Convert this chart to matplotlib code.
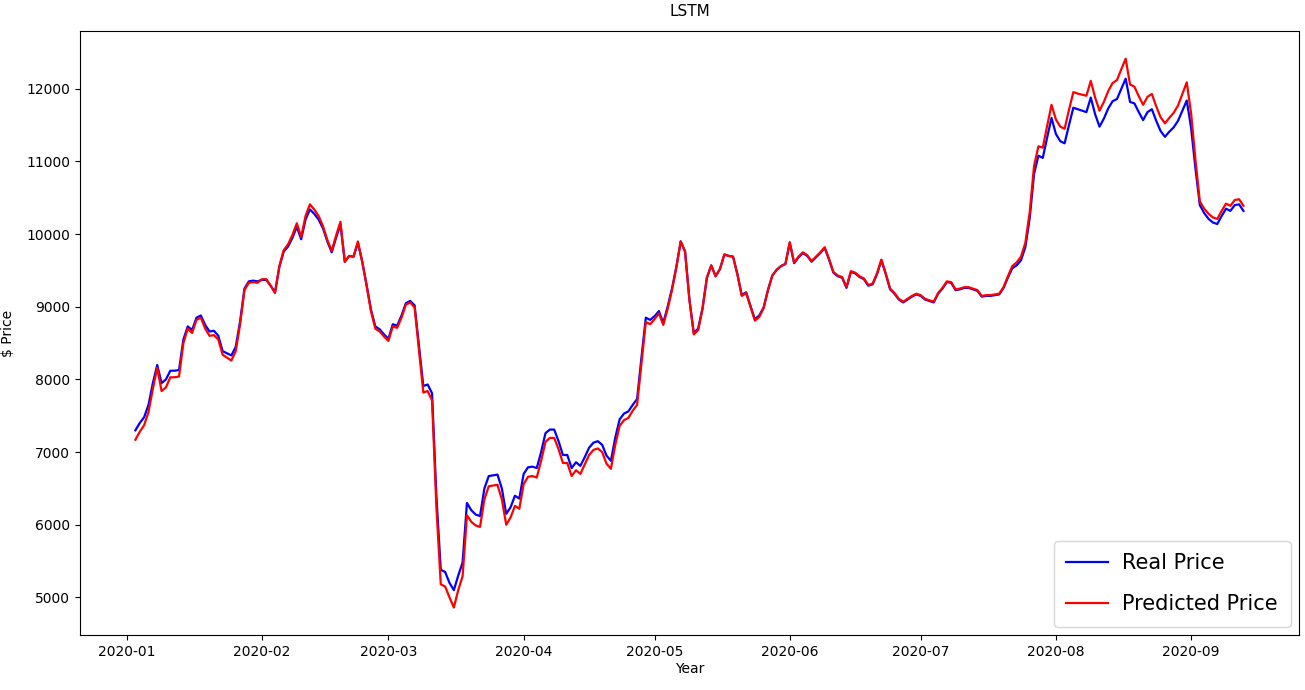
import matplotlib
matplotlib.use("Agg")
import matplotlib.pyplot as plt
import pandas as pd

start_date = "2020-01-03"

real_price = [
    # Jan 3 - Jan 31
    7300, 7400, 7480, 7650, 7950, 8200, 7950, 8000, 8120, 8120, 8130, 8550, 8730, 8680, 8850,
    8880, 8750, 8660, 8670, 8600, 8390, 8360, 8330, 8450, 8800, 9250, 9350, 9360, 9350,
    # Feb
    9370, 9370, 9290, 9200, 9550, 9760, 9830, 9950, 10100, 9930, 10200, 10340, 10280, 10200, 10080,
    9900, 9750, 9950, 10130, 9620, 9700, 9690, 9880, 9620, 9300, 8960, 8730, 8690, 8620,
    # Mar
    8560, 8760, 8740, 8880, 9050, 9080, 9020, 8460, 7910, 7930, 7810, 6390, 5380, 5350, 5200, 5100,
    5300, 5480, 6300, 6200, 6140, 6120, 6500, 6670, 6680, 6690, 6500, 6150, 6240, 6400, 6360,
    # Apr
    6700, 6790, 6800, 6780, 7000, 7260, 7310, 7310, 7150, 6960, 6960, 6780, 6860, 6810, 6930,
    7060, 7130, 7150, 7100, 6950, 6880, 7200, 7450, 7530, 7560, 7650, 7730, 8300, 8850, 8820,
    # May
    8870, 8940, 8780, 9000, 9250, 9550, 9900, 9760, 9100, 8640, 8700, 8980, 9400, 9570, 9420, 9520,
    9720, 9700, 9690, 9450, 9160, 9200, 9010, 8830, 8880, 8990, 9230, 9430, 9510, 9560, 9590,
    # Jun
    9880, 9600, 9680, 9740, 9700, 9620, 9680, 9740, 9810, 9650, 9470, 9420, 9400, 9260, 9480,
    9460, 9410, 9380, 9290, 9310, 9450, 9640, 9450, 9240, 9180, 9100, 9060, 9100, 9140, 9170,
    # Jul
    9150, 9100, 9080, 9060, 9180, 9250, 9340, 9330, 9230, 9240, 9260, 9260, 9240, 9220, 9140, 9150,
    9150, 9160, 9170, 9260, 9400, 9530, 9570, 9640, 9820, 10220, 10830, 11080, 11050, 11330, 11600,
    # Aug
    11380, 11280, 11250, 11500, 11740, 11720, 11700, 11680, 11880, 11650, 11480, 11590, 11730, 11830,
    11860, 12000, 12140, 11820, 11800, 11680, 11570, 11680, 11720, 11560, 11420, 11340, 11410, 11470,
    11560, 11700, 11840,
    # Sep 1 - Sep 13
    11460, 10900, 10400, 10290, 10210, 10160, 10140, 10250, 10350, 10320, 10400, 10410, 10320,
]

predicted_price = [
    # Jan 3 - Jan 31
    7170, 7280, 7370, 7550, 7870, 8160, 7840, 7890, 8030, 8030, 8040, 8500, 8700, 8640, 8820,
    8850, 8700, 8600, 8610, 8550, 8340, 8300, 8260, 8390, 8760, 9230, 9330, 9340, 9330,
    # Feb
    9380, 9380, 9290, 9190, 9560, 9780, 9860, 9990, 10150, 9960, 10250, 10410, 10340, 10250, 10110,
    9920, 9770, 9980, 10170, 9620, 9700, 9690, 9900, 9620, 9290, 8940, 8700, 8660, 8590,
    # Mar
    8530, 8730, 8710, 8850, 9030, 9060, 8990, 8400, 7820, 7840, 7710, 6240, 5180, 5150, 5000, 4860,
    5100, 5290, 6130, 6040, 5990, 5970, 6350, 6530, 6540, 6550, 6350, 6000, 6100, 6260, 6220,
    # Apr
    6560, 6660, 6670, 6650, 6880, 7140, 7195, 7195, 7040, 6850, 6850, 6670, 6750, 6700, 6830,
    6960, 7030, 7050, 7000, 6840, 6770, 7100, 7360, 7440, 7470, 7570, 7650, 8220, 8790, 8760,
    # May
    8830, 8910, 8750, 8970, 9230, 9540, 9900, 9760, 9090, 8620, 8680, 8970, 9400, 9570, 9420, 9520,
    9720, 9700, 9690, 9440, 9150, 9190, 9000, 8810, 8860, 8980, 9230, 9430, 9510, 9560, 9590,
    # Jun
    9890, 9610, 9690, 9750, 9710, 9630, 9690, 9750, 9820, 9660, 9480, 9430, 9410, 9270, 9490,
    9470, 9420, 9390, 9300, 9320, 9460, 9650, 9460, 9250, 9190, 9110, 9070, 9110, 9150, 9180,
    # Jul
    9160, 9110, 9090, 9070, 9190, 9260, 9350, 9340, 9240, 9250, 9270, 9270, 9250, 9230, 9150, 9160,
    9160, 9170, 9180, 9270, 9420, 9560, 9610, 9690, 9880, 10300, 10940, 11210, 11190, 11490, 11780,
    # Aug
    11580, 11480, 11450, 11710, 11955, 11935, 11920, 11905, 12110, 11880, 11700, 11820, 11970, 12080,
    12120, 12270, 12415, 12060, 12030, 11900, 11780, 11890, 11930, 11760, 11610, 11525, 11600, 11670,
    11770, 11930, 12090,
    # Sep 1 - Sep 13
    11660, 11020, 10450, 10350, 10280, 10230, 10210, 10320, 10420, 10390, 10470, 10480, 10390,
]

dates = pd.date_range(start_date, periods=len(real_price), freq="D")

fig = plt.figure(figsize=(13.05, 6.9), dpi=100)
ax = fig.add_axes([0.0613, 0.0797, 0.934, 0.875])

ax.plot(dates, real_price, color="blue", linewidth=1.6, label="Real Price")
ax.plot(dates, predicted_price, color="red", linewidth=1.6, label="Predicted Price")

ax.set_title("LSTM", fontsize=11, pad=11)
ax.set_xlabel("Year", fontsize=10, labelpad=2)
ax.set_ylabel("\\$ Price", fontsize=10, labelpad=8)
ax.legend(loc="lower right", fontsize=15, labelspacing=1.0, borderpad=0.6,
          handlelength=2.0, handletextpad=0.7, borderaxespad=0.4)

fig.savefig("out.png", dpi=100)
